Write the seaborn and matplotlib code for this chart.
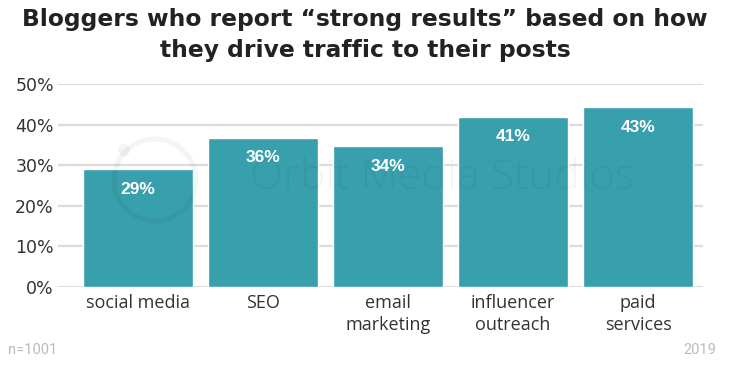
import matplotlib
matplotlib.use("Agg")
import matplotlib.pyplot as plt
from matplotlib.patches import Ellipse
import seaborn as sns
import pandas as pd

# dados
categories = ["social media", "SEO", "email\nmarketing", "influencer\noutreach", "paid\nservices"]
bar_heights = [29.0, 36.7, 34.7, 41.9, 44.3]
bar_labels = ["29%", "36%", "34%", "41%", "43%"]
y_ticks = [0, 10, 20, 30, 40, 50]
y_tick_labels = ["0%", "10%", "20%", "30%", "40%", "50%"]

df = pd.DataFrame({"category": categories, "value": bar_heights})

sns.set_style("white")
plt.rcParams["font.family"] = ["Open Sans", "DejaVu Sans"]

fig = plt.figure(figsize=(7.3, 3.65), dpi=100)
ax = fig.add_axes([0.0795, 0.2137, 0.8836, 0.556])

sns.barplot(data=df, x="category", y="value", color="#389fac", saturation=1,
            width=0.88, ax=ax, zorder=3)

for i, (h, lab) in enumerate(zip(bar_heights, bar_labels)):
    ax.text(i, h - 4.9, lab, ha="center", va="center", color="white",
            fontsize=12.5, fontweight="bold", family="Liberation Sans", zorder=5)

# marca d'agua (bem clara, por cima das barras)
wm = dict(color="#000000", alpha=0.045, zorder=4)
ax.text(0.595, 0.54, "Orbit Media Studios", transform=ax.transAxes, ha="center", va="center",
        fontsize=31, family="Open Sans", fontweight="light", **wm)
fig.patches.append(Ellipse((155 / 730, 1 - 180 / 365), 82 / 730, 82 / 365, fill=False,
                           lw=3.5, edgecolor="#000000", alpha=0.045, transform=fig.transFigure))
fig.patches.append(Ellipse((124 / 730, 1 - 150 / 365), 12 / 730, 12 / 365, fill=True,
                           lw=0, facecolor="#000000", alpha=0.045, transform=fig.transFigure))

ax.set_xlim(-0.64, 4.52)
ax.set_ylim(0, 50)
ax.set_yticks(y_ticks)
ax.set_yticklabels(y_tick_labels, family="DejaVu Sans")
ax.yaxis.grid(True, color="#dcdcdc", linewidth=1.6, zorder=0)
ax.set_axisbelow(True)
ax.patch.set_alpha(0)
for s in ax.spines.values():
    s.set_visible(False)
ax.tick_params(axis="y", length=0, pad=3, labelsize=12.5, labelcolor="#333333")
ax.tick_params(axis="x", length=0, pad=5, labelsize=13, labelcolor="#333333")
ax.set_xlabel("")
ax.set_ylabel("")
for t in ax.get_xticklabels():
    t.set_linespacing(1.3)

fig.text(0.5, 0.904, "Bloggers who report \u201cstrong results\u201d based on how\nthey drive traffic to their posts",
         ha="center", va="center", fontsize=16.8, fontweight="bold", color="#222222",
         linespacing=1.45, family="DejaVu Sans")

fig.text(0.011, 0.041, "n=1001", fontsize=10.5, color="#bbbbbb", family="Roboto", ha="left", va="center")
fig.text(0.981, 0.041, "2019", fontsize=10.5, color="#bbbbbb", family="Roboto", ha="right", va="center")

fig.savefig("out.png", dpi=100)
plt.close()
